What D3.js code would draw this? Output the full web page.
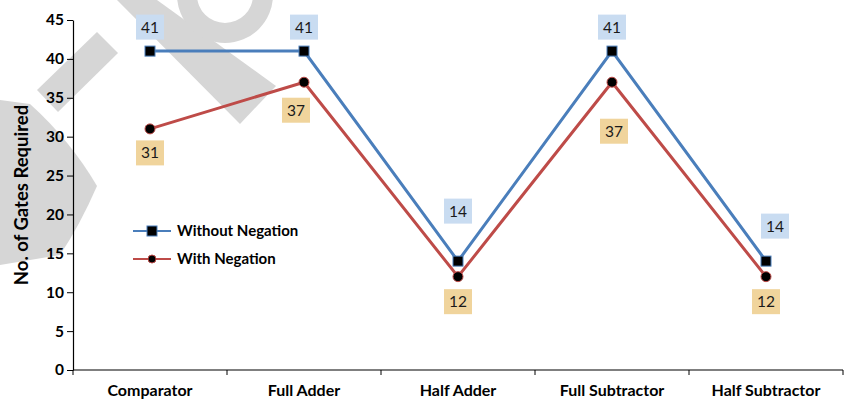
<!DOCTYPE html>
<html><head><meta charset="utf-8">
<script src="https://cdn.jsdelivr.net/npm/d3@7"></script>
<style>body{margin:0;background:#fff}svg{display:block}</style>
</head><body><svg id="c" width="845" height="404"></svg>
<script>
const categories = ["Comparator","Full Adder","Half Adder","Full Subtractor","Half Subtractor"];
const withoutNegation = [41,41,14,41,14];
const withNegation = [31,37,12,37,12];
const yTicks = [0,5,10,15,20,25,30,35,40,45];
const seriesNames = ["Without Negation","With Negation"];

// layout: data-label offsets (px) relative to the point
const offWithout = [[0,-24],[0,-24],[0,-50],[0,-24],[9,-35]];
const offWith = [[0,24],[-8,28],[0,25],[2,49],[0,25]];

const svg = d3.select("#c");
const font = "Lato, 'Open Sans', sans-serif";
const x = d3.scaleBand().domain(categories).range([73,843]);
const y = d3.scaleLinear().domain([0,45]).range([370,20]);
const cx = c => x(c) + x.bandwidth()/2;

// watermark
const wm = svg.append("g").attr("fill","#d6d6d6");
wm.append("polygon").attr("points","117,0 157,0 276,86 240,124");
wm.append("path").attr("fill-rule","evenodd")
  .attr("d", "M177,-5 A48,48 0 1 0 273,-5 A48,48 0 1 0 177,-5 Z M197,-5 A28,28 0 1 0 253,-5 A28,28 0 1 0 197,-5 Z");
wm.append("polygon").attr("points","37,90 97,32 118,53 58,112");
wm.append("path").attr("d","M0,100 L30,104 Q70,140 97,186 Q80,225 60,255 L0,265 Z");

// axes
const gy = svg.append("g").attr("transform","translate(73,0)")
  .call(d3.axisLeft(y).tickValues(yTicks).tickSize(6).tickSizeOuter(0));
gy.select(".domain").attr("stroke","#000").attr("stroke-width",1.2);
gy.selectAll(".tick line").attr("stroke","#000");
gy.selectAll(".tick text").attr("font-family",font).attr("font-weight","bold")
  .attr("font-size",15.5).attr("fill","#000").attr("x",-9);

const gx = svg.append("g").attr("transform","translate(0,370)");
gx.append("line").attr("x1",73).attr("x2",843).attr("stroke","#000").attr("stroke-width",1.2);
const edges = categories.map(c => x(c)).concat([x.range()[1]]);
gx.selectAll("line.t").data(edges).join("line").attr("class","t")
  .attr("x1",d=>d).attr("x2",d=>d).attr("y1",0).attr("y2",5).attr("stroke","#000");
gx.selectAll("text").data(categories).join("text")
  .attr("x",d=>cx(d)).attr("y",26).attr("text-anchor","middle")
  .attr("font-family",font).attr("font-weight","bold").attr("font-size",16).attr("fill","#000")
  .text(d=>d);

svg.append("text").attr("transform","translate(28,195) rotate(-90)")
  .attr("text-anchor","middle").attr("font-family",font).attr("font-weight","bold")
  .attr("font-size",18.5).attr("fill","#000").text("No. of Gates Required");

const line = d3.line().x((d,i)=>cx(categories[i])).y(d=>y(d));
const blue = "#4a7ebb", red = "#be4b48";

svg.append("path").datum(withNegation).attr("d",line).attr("fill","none")
  .attr("stroke",red).attr("stroke-width",3);
svg.append("path").datum(withoutNegation).attr("d",line).attr("fill","none")
  .attr("stroke",blue).attr("stroke-width",3);

svg.selectAll("circle.m").data(withNegation).join("circle").attr("class","m")
  .attr("cx",(d,i)=>cx(categories[i])).attr("cy",d=>y(d)).attr("r",5)
  .attr("fill","#000").attr("stroke",red).attr("stroke-width",1);
svg.selectAll("rect.m").data(withoutNegation).join("rect").attr("class","m")
  .attr("x",(d,i)=>cx(categories[i])-5).attr("y",d=>y(d)-5).attr("width",10).attr("height",10)
  .attr("fill","#000").attr("stroke",blue).attr("stroke-width",1);

function labels(data, off, fill){
  const g = svg.append("g").selectAll("g").data(data).join("g")
    .attr("transform",(d,i)=>`translate(${cx(categories[i])+off[i][0]},${y(d)+off[i][1]})`);
  g.append("rect").attr("x",-14).attr("y",-12.5).attr("width",28).attr("height",25).attr("fill",fill);
  g.append("text").attr("text-anchor","middle").attr("dy","0.36em")
    .attr("font-family",font).attr("font-size",15.5).attr("fill","#1a1a1a").text(d=>d);
}
labels(withoutNegation, offWithout, "#c9dcf1");
labels(withNegation, offWith, "#f0d49c");

// legend
const lg = svg.append("g").attr("transform","translate(133,231)");
[0,1].forEach(i=>{
  const gg = lg.append("g").attr("transform",`translate(0,${i*28})`);
  gg.append("line").attr("x1",0).attr("x2",38).attr("stroke",i?red:blue).attr("stroke-width",2);
  if(i) gg.append("circle").attr("cx",19).attr("r",4).attr("fill","#000").attr("stroke",red);
  else gg.append("rect").attr("x",14).attr("y",-5).attr("width",10).attr("height",10).attr("fill","#000").attr("stroke",blue);
  gg.append("text").attr("x",44).attr("dy","0.35em").attr("font-family",font).attr("font-weight","bold")
    .attr("font-size",15).attr("fill","#000").text(seriesNames[i]);
});
</script></body></html>
